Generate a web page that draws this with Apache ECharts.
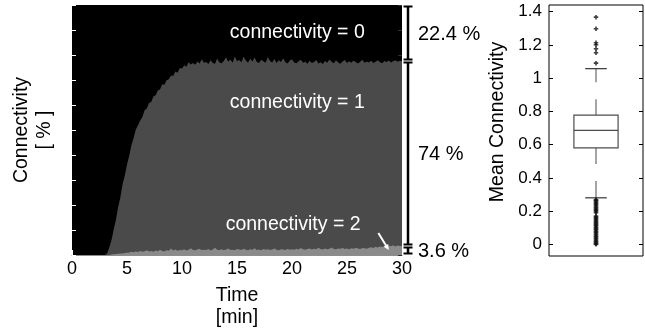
<!DOCTYPE html>
<html>
<head>
<meta charset="utf-8">
<script src="https://cdn.jsdelivr.net/npm/echarts@6/dist/echarts.min.js"></script>
<style>
html,body{margin:0;padding:0;background:#fff;}
#c{width:645px;height:334px;}
</style>
</head>
<body>
<div id="c"></div>
<script>
// ---------- data ----------
// sampling step of the time series (minutes)
const timeStep = 0.2;
// percent of nodes with connectivity >= 1 (top edge of the dark-gray area)
const cumConn1 = [
  0,0,0,0,0,0,0,0,0,0,
  0,0,0,0,0,0,0.6,3.2,6.1,10.4,
  14.2,19.3,23.1,28.4,31.8,36.2,39.7,43.9,46.8,50.2,
  51.9,53.8,55.2,57.9,58.6,60.8,61.2,63.4,63.9,65.8,
  66.2,68.3,68.1,69.9,70.3,71.8,71.6,73.4,72.9,74.8,
  74.6,75.9,75.3,77.1,76.2,76.8,76.1,77.4,76.6,78.3,
  76.9,77.2,76.4,77.9,76.8,76.5,78.6,77.0,76.7,77.6,
  79.1,77.3,78.2,76.9,79.4,77.5,78.0,77.1,79.3,77.8,
  76.9,78.5,77.4,79.0,77.2,76.8,78.1,77.5,76.9,79.2,
  77.6,77.0,78.4,76.8,77.9,77.2,78.7,77.1,76.6,77.8,
  78.3,77.0,76.7,77.5,78.1,76.9,77.3,76.5,77.7,76.8,
  77.2,78.0,76.6,77.1,76.4,77.6,76.9,78.2,77.3,76.7,
  77.9,77.0,76.5,77.4,78.0,76.8,77.5,76.9,77.8,77.1,
  76.6,77.3,78.1,76.9,77.4,77.0,77.7,76.8,77.3,77.9,
  77.1,76.7,77.6,77.2,77.8,77.0,77.5,77.9,77.3,77.7,
  77.6
];
// percent of nodes with connectivity = 2 (light-gray band)
const conn2 = [
  0,0,0,0,0,0,0,0,0,0,
  0,0,0,0,0,0,0,0,0.2,0.3,
  0.4,0.5,0.6,0.6,0.8,0.9,1.0,1.3,1.1,1.4,
  1.2,1.6,1.3,1.5,1.9,1.4,1.6,1.3,1.8,1.5,
  2.1,1.6,1.4,1.9,1.7,2.6,1.8,2.2,1.7,2.0,
  1.9,2.3,1.8,2.1,2.7,2.0,1.9,2.2,2.5,1.9,
  2.1,2.0,2.4,1.8,2.2,2.9,2.1,2.0,2.3,1.9,
  2.2,2.6,2.0,2.1,1.9,2.4,2.2,2.0,2.5,2.1,
  1.9,2.3,2.1,2.7,2.0,2.2,1.9,2.4,2.1,2.3,
  2.0,2.2,2.6,2.1,1.9,2.3,2.2,2.0,2.4,2.1,
  2.3,2.1,2.5,2.2,2.8,2.3,2.1,2.4,2.6,2.2,
  2.5,2.3,2.9,2.4,2.2,2.6,2.3,2.5,3.0,2.4,
  2.3,2.6,2.5,2.8,2.4,2.6,2.3,2.7,2.5,2.9,
  2.6,2.4,2.8,2.7,2.5,2.9,3.1,2.8,3.3,3.0,
  3.4,3.2,3.6,3.3,3.7,3.5,3.9,3.4,3.8,3.6,
  3.6
];
// final shares shown by the bracket (connectivity 0, 1, 2)
const finalShares = [22.4, 74, 3.6];
const shareLabels = ['22.4 %', '74 %', '3.6 %'];
const xTicks = [0, 5, 10, 15, 20, 25, 30];

// box plot of mean connectivity: [lower whisker, Q1, median, Q3, upper whisker]
const boxStats = [0.28, 0.58, 0.686, 0.777, 1.057];
const upperOutliers = [1.09, 1.153, 1.177, 1.201, 1.213, 1.297, 1.367];
const lowerOutliers = [0, 0.004, 0.01, 0.016, 0.022, 0.03, 0.037, 0.045, 0.05, 0.058,
  0.066, 0.073, 0.08, 0.088, 0.095, 0.1, 0.108, 0.115, 0.12, 0.128,
  0.135, 0.142, 0.15, 0.156, 0.163, 0.17, 0.19, 0.198, 0.205, 0.21,
  0.218, 0.225, 0.232, 0.24, 0.246, 0.252, 0.26, 0.265, 0.27];
const boxTicks = [0, 0.2, 0.4, 0.6, 0.8, 1, 1.2, 1.4];

// ---------- build ----------
const FONT = 'Liberation Sans';
const pairs = arr => arr.map((v, i) => [+(i * timeStep).toFixed(2), v]);
const outlierPts = upperOutliers.concat(lowerOutliers).map(v => [1, v]);

const chart = echarts.init(document.getElementById('c'), null, {renderer: 'canvas'});

const option = {
  animation: false,
  backgroundColor: '#ffffff',
  textStyle: {fontFamily: FONT},
  grid: [
    {left: 72, width: 330, top: 5, height: 250, show: true, backgroundColor: '#000000', borderWidth: 0},
    {left: 549, right: 2, top: 5, height: 251, show: true, backgroundColor: '#ffffff', borderColor: '#000', borderWidth: 1}
  ],
  xAxis: [
    {type: 'value', gridIndex: 0, min: 0, max: 30, interval: 5,
     axisLine: {show: true, lineStyle: {color: '#8c8c8c', width: 1}},
     axisTick: {show: true, inside: true, length: 5, lineStyle: {color: '#ffffff', width: 2}},
     axisLabel: {show: true, color: '#000', fontSize: 18, fontFamily: FONT, margin: 5},
     splitLine: {show: false}},
    {type: 'value', gridIndex: 1, min: 0, max: 2,
     axisLine: {show: false}, axisTick: {show: false}, axisLabel: {show: false}, splitLine: {show: false}}
  ],
  yAxis: [
    {type: 'value', gridIndex: 0, min: 0, max: 100, interval: 10,
     axisLine: {show: false},
     axisTick: {show: true, inside: true, length: 4, lineStyle: {color: '#ffffff', width: 1}},
     axisLabel: {show: false}, splitLine: {show: false}},
    {type: 'value', gridIndex: 0, position: 'right', min: 0, max: 100, interval: 10,
     axisLine: {show: false},
     axisTick: {show: true, inside: true, length: 4, lineStyle: {color: '#2e2e2e', width: 1}},
     axisLabel: {show: false}, splitLine: {show: false}},
    {type: 'value', gridIndex: 1, min: -0.07, max: 1.44,
     axisLine: {show: false},
     axisTick: {show: true, inside: true, length: 4, customValues: boxTicks, lineStyle: {color: '#000'}},
     axisLabel: {show: true, customValues: boxTicks, color: '#000', fontSize: 17, fontFamily: FONT, margin: 7,
       formatter: v => String(+v.toFixed(2))},
     splitLine: {show: false}},
    {type: 'value', gridIndex: 1, position: 'right', min: -0.07, max: 1.44,
     axisLine: {show: false},
     axisTick: {show: true, inside: true, length: 4, customValues: boxTicks, lineStyle: {color: '#000'}},
     axisLabel: {show: false}, splitLine: {show: false}}
  ],
  series: [
    {name: 'connectivity >= 1', type: 'line', xAxisIndex: 0, yAxisIndex: 0, data: pairs(cumConn1),
     showSymbol: false, symbol: 'none', lineStyle: {width: 0}, areaStyle: {color: '#4a4a4a', opacity: 1},
     z: 2, silent: true},
    {name: 'connectivity = 2', type: 'line', xAxisIndex: 0, yAxisIndex: 0, data: pairs(conn2),
     showSymbol: false, symbol: 'none', lineStyle: {width: 0}, areaStyle: {color: '#8a8a8a', opacity: 1},
     z: 3, silent: true},
    {name: 'box', type: 'custom', xAxisIndex: 1, yAxisIndex: 2,
     data: [[1].concat(boxStats)],
     encode: {x: 0, y: [1, 2, 3, 4, 5]},
     renderItem: function (params, api) {
       const x = api.value(0);
       const lo = api.coord([x, api.value(1)]);
       const q1 = api.coord([x, api.value(2)]);
       const md = api.coord([x, api.value(3)]);
       const q3 = api.coord([x, api.value(4)]);
       const hi = api.coord([x, api.value(5)]);
       const bw = api.size([0.94, 0])[0];
       const cw = api.size([0.23, 0])[0];
       const cx = q1[0];
       const boxCol = '#4d4d4d', whCol = '#6a6a6a';
       return {type: 'group', children: [
         {type: 'line', shape: {x1: cx, y1: q3[1], x2: cx, y2: hi[1]}, style: {stroke: whCol, lineWidth: 1.2, lineDash: [16, 17]}},
         {type: 'line', shape: {x1: cx, y1: q1[1], x2: cx, y2: lo[1]}, style: {stroke: whCol, lineWidth: 1.2, lineDash: [16, 17]}},
         {type: 'line', shape: {x1: cx - cw, y1: hi[1], x2: cx + cw, y2: hi[1]}, style: {stroke: '#333', lineWidth: 1.2}},
         {type: 'line', shape: {x1: cx - cw, y1: lo[1], x2: cx + cw, y2: lo[1]}, style: {stroke: '#333', lineWidth: 1.2}},
         {type: 'rect', shape: {x: cx - bw / 2, y: q3[1], width: bw, height: q1[1] - q3[1]}, style: {fill: 'none', stroke: boxCol, lineWidth: 1.2}},
         {type: 'line', shape: {x1: cx - bw / 2, y1: md[1], x2: cx + bw / 2, y2: md[1]}, style: {stroke: boxCol, lineWidth: 1.2}}
       ]};
     }},
    {name: 'outliers', type: 'scatter', xAxisIndex: 1, yAxisIndex: 2, data: outlierPts,
     symbol: 'path://M0,1.6H5V3.4H0ZM1.6,0H3.4V5H1.6Z', symbolSize: 4.5,
     itemStyle: {color: '#111'}, z: 5, silent: true}
  ]
};
chart.setOption(option);

// ---------- annotations (placed through the chart's own scales) ----------
const toPx = (t, v) => chart.convertToPixel({gridIndex: 0}, [t, v]);
const g = [];
const bx = toPx(30, 0)[0] + 6;
// bracket boundaries (cumulative from 100 downwards)
const bounds = [100];
finalShares.forEach(s => bounds.push(bounds[bounds.length - 1] - s));
for (let i = 0; i < finalShares.length; i++) {
  const yTop = toPx(30, bounds[i])[1] + 1.5;
  const yBot = toPx(30, Math.max(bounds[i + 1], 0))[1] - 1.5;
  g.push({type: 'line', shape: {x1: bx, y1: yTop, x2: bx, y2: yBot}, style: {stroke: '#000', lineWidth: 2.5}, z: 10});
  g.push({type: 'line', shape: {x1: bx - 4.5, y1: yTop, x2: bx + 4.5, y2: yTop}, style: {stroke: '#000', lineWidth: 2}, z: 10});
  g.push({type: 'line', shape: {x1: bx - 4.5, y1: yBot, x2: bx + 4.5, y2: yBot}, style: {stroke: '#000', lineWidth: 2}, z: 10});
  g.push({type: 'text', x: bx + 10, y: (yTop + yBot) / 2 + 1,
    style: {text: shareLabels[i], fill: '#000', font: '20px "' + FONT + '"', textAlign: 'left', textVerticalAlign: 'middle'}, z: 10});
}
// in-plot labels
const inLabels = [
  {text: 'connectivity = 0', at: [20.48, 88.8]},
  {text: 'connectivity = 1', at: [20.48, 60.8]},
  {text: 'connectivity = 2', at: [20.1, 12.0]}
];
inLabels.forEach(l => {
  const p = toPx(l.at[0], l.at[1]);
  g.push({type: 'text', x: p[0], y: p[1],
    style: {text: l.text, fill: '#fff', font: '19.5px "' + FONT + '"', textAlign: 'center', textVerticalAlign: 'middle'}, z: 10});
});
// white arrow pointing at the connectivity = 2 band
const a0 = toPx(27.85, 8.8), a1 = toPx(28.8, 2.0);
const ang = Math.atan2(a1[1] - a0[1], a1[0] - a0[0]);
const hl = 6, hw = 0.45;
g.push({type: 'line', shape: {x1: a0[0], y1: a0[1], x2: a1[0] - Math.cos(ang) * 3, y2: a1[1] - Math.sin(ang) * 3}, style: {stroke: '#fff', lineWidth: 2}, z: 10});
g.push({type: 'polygon', shape: {points: [
  [a1[0], a1[1]],
  [a1[0] - hl * Math.cos(ang - hw), a1[1] - hl * Math.sin(ang - hw)],
  [a1[0] - hl * Math.cos(ang + hw), a1[1] - hl * Math.sin(ang + hw)]
]}, style: {fill: '#fff'}, z: 10});
// axis titles
const xc = (toPx(0, 0)[0] + toPx(30, 0)[0]) / 2;
g.push({type: 'text', x: xc, y: 296, style: {text: 'Time', fill: '#000', font: '19.5px "' + FONT + '"', textAlign: 'center', textVerticalAlign: 'middle'}});
g.push({type: 'text', x: xc, y: 318, style: {text: '[min]', fill: '#000', font: '19.5px "' + FONT + '"', textAlign: 'center', textVerticalAlign: 'middle'}});
g.push({type: 'text', x: 22, y: 130, rotation: Math.PI / 2, style: {text: 'Connectivity', fill: '#000', font: '19.5px "' + FONT + '"', textAlign: 'center', textVerticalAlign: 'middle'}});
g.push({type: 'text', x: 45, y: 130, rotation: Math.PI / 2, style: {text: '[ % ]', fill: '#000', font: '19.5px "' + FONT + '"', textAlign: 'center', textVerticalAlign: 'middle'}});
g.push({type: 'text', x: 498, y: 122, rotation: Math.PI / 2, style: {text: 'Mean Connectivity', fill: '#000', font: '19.5px "' + FONT + '"', textAlign: 'center', textVerticalAlign: 'middle'}});

chart.setOption({graphic: g});
</script>
</body>
</html>
